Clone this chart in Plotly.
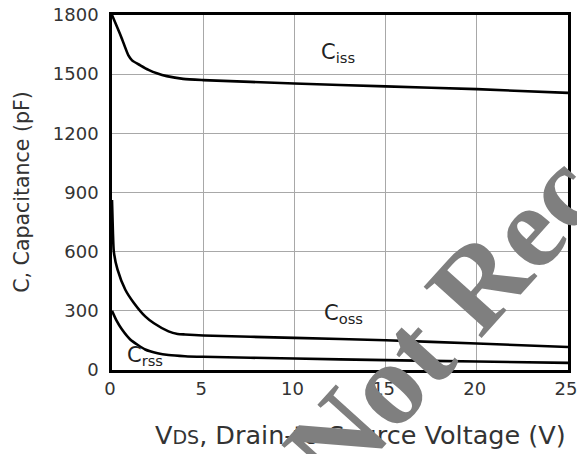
import plotly.graph_objects as go

# ---- data ----
vds_ciss = [0, 0.5, 0.9, 1.1, 1.55, 2.0, 2.5, 3.0, 3.9, 5, 10, 15, 20, 25]
ciss = [1800, 1690, 1595, 1570, 1545, 1522, 1503, 1490, 1476, 1470, 1453, 1438, 1424, 1405]

vds_coss = [0, 0.05, 0.1, 0.3, 0.73, 1.2, 1.82, 2.3, 3.1, 3.6, 4.0, 5, 10, 15, 20, 25]
coss = [862, 700, 600, 510, 407, 340, 272, 237, 196, 183, 180, 175, 163, 151, 134, 117]

vds_crss = [0, 0.25, 0.55, 1.0, 1.82, 2.5, 3.1, 4.0, 5, 10, 15, 20, 25]
crss = [300, 250, 205, 155, 104, 85, 76, 70, 67, 58, 50, 43, 36]

x_ticks = [0, 5, 10, 15, 20, 25]
y_ticks = [0, 300, 600, 900, 1200, 1500, 1800]

FONT = "DejaVu Sans"
LINE = dict(color="black", width=2.6, shape="spline", smoothing=0.6)

fig = go.Figure()
for xs, ys in [(vds_ciss, ciss), (vds_coss, coss), (vds_crss, crss)]:
    fig.add_trace(go.Scatter(x=xs, y=ys, mode="lines", line=LINE,
                             showlegend=False, hoverinfo="skip"))

axis_common = dict(showline=True, mirror=True, linecolor="black", linewidth=2.6,
                   showgrid=True, gridcolor="#a8a8a8", gridwidth=1.3,
                   zeroline=False, ticks="", ticklabeloverflow="allow", automargin=False,
                   tickfont=dict(family=FONT, size=18, color="#333"))

fig.update_xaxes(range=[0, 25], tickvals=x_ticks, ticklabelstandoff=1,
                 ticklabelshift=-2, **axis_common)
fig.update_yaxes(range=[0, 1800], tickvals=y_ticks, ticklabelstandoff=7, **axis_common)

labels = [
    (12.37, 1605, "C<sub>iss</sub>"),
    (12.67, 283, "C<sub>oss</sub>"),
    (1.8, 70, "C<sub>rss</sub>"),
]
for x, y, t in labels:
    fig.add_annotation(x=x, y=y, xref="x", yref="y", text=t, showarrow=False,
                       xanchor="center", yanchor="middle",
                       font=dict(family=FONT, size=21, color="#222"))

# axis titles
fig.add_annotation(x=0.545, y=-0.184, xref="paper", yref="paper", showarrow=False,
                   xanchor="center", yanchor="middle",
                   text="V<span style='font-size:19px'>DS</span>, Drain-to-Source Voltage (V)",
                   font=dict(family=FONT, size=25.5, color="#333"))
fig.add_annotation(x=-0.1966, y=0.503, xref="paper", yref="paper", showarrow=False,
                   xanchor="center", yanchor="middle", textangle=-90,
                   text="C, Capacitance (pF)",
                   font=dict(family=FONT, size=20.5, color="#333"))

# watermark
fig.add_annotation(x=0.724, y=0.135, xref="paper", yref="paper", showarrow=False,
                   xanchor="center", yanchor="middle", textangle=-48,
                   text="<b>Not Rec</b>",
                   font=dict(family="Liberation Serif", size=118, color="#7f7f7f"))

fig.update_layout(width=577, height=454, margin=dict(l=112, r=9, t=15, b=84),
                  plot_bgcolor="white", paper_bgcolor="white")

fig.write_html("out.html")
